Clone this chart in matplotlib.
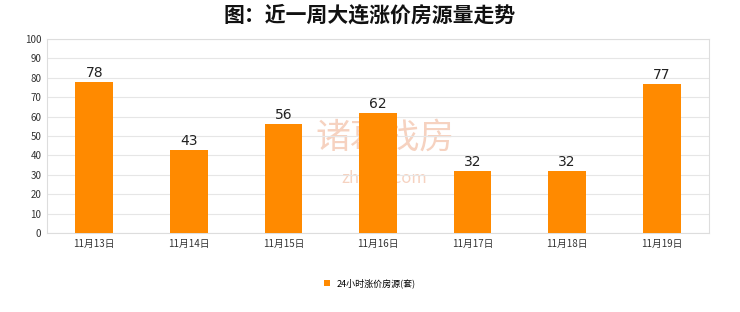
import matplotlib.pyplot as plt
import numpy as np

plt.rcParams['font.family'] = ['Noto Sans CJK SC', 'DejaVu Sans']

dates = ['11月13日', '11月14日', '11月15日', '11月16日', '11月17日', '11月18日', '11月19日']
counts = [78, 43, 56, 62, 32, 32, 77]
series_name = '24小时涨价房源(套)'
yticks = [0, 10, 20, 30, 40, 50, 60, 70, 80, 90, 100]

bar_color = '#FF8A00'
grid_color = '#E6E6E6'

fig = plt.figure(figsize=(7.4, 3.12), dpi=100)
ax = fig.add_axes([47 / 740, 1 - 233 / 312, 662 / 740, 194 / 312])

x = np.arange(len(dates))
bars = ax.bar(x, counts, width=0.4, color=bar_color, label=series_name, zorder=3)
for xi, v in zip(x, counts):
    ax.text(xi, v + 1, str(v), ha='center', va='bottom', fontsize=10,
            color='#222222', family=['DejaVu Sans'])

ax.set_xlim(-0.5, len(dates) - 0.5)
ax.set_ylim(0, 100)
ax.set_yticks(yticks)
ax.set_xticks(x)
ax.set_xticklabels(dates)
ax.tick_params(axis='both', length=0, labelsize=7, colors='#333333', pad=4)
ax.grid(axis='y', color=grid_color, linewidth=0.8, zorder=0)
for s in ax.spines.values():
    s.set_color('#DDDDDD')
    s.set_linewidth(0.8)

# faint watermark behind the bars
ax.text(0.51, 0.49, '诸葛找房', transform=ax.transAxes, fontsize=25,
        color='#F6D2C0', ha='center', va='center', zorder=1)
ax.text(0.51, 0.28, 'zhuge.com', transform=ax.transAxes, fontsize=12,
        color='#F6D2C0', ha='center', va='center', zorder=1)

fig.suptitle('图：近一周大连涨价房源量走势', fontsize=15, fontweight='semibold',
             y=1 - 15 / 312, va='center', color='#111111')

fig.legend(handles=[bars], labels=[series_name], loc='center',
           bbox_to_anchor=(0.5, 1 - 283 / 312), frameon=False, fontsize=6.5,
           handlelength=0.6, handleheight=0.6, handletextpad=0.8)

fig.savefig('out.png', dpi=100, facecolor='white')
